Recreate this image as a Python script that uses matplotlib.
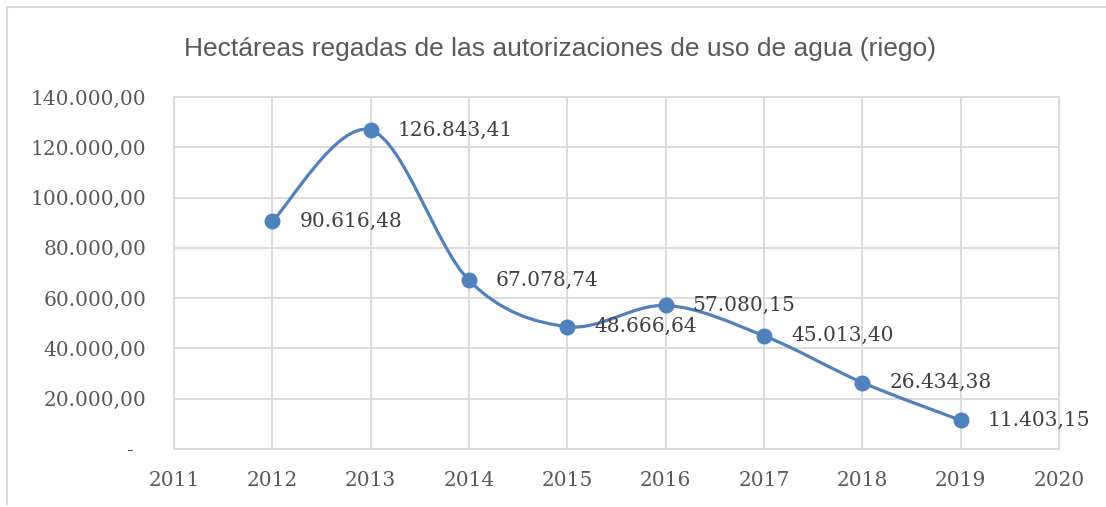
import matplotlib
matplotlib.use('Agg')
import matplotlib.pyplot as plt
from matplotlib.path import Path
from matplotlib.patches import PathPatch
from matplotlib.lines import Line2D
import numpy as np

years = [2012, 2013, 2014, 2015, 2016, 2017, 2018, 2019]
hectares = [90616.48, 126843.41, 67078.74, 48666.64, 57080.15, 45013.40, 26434.38, 11403.15]
labels = ['90.616,48', '126.843,41', '67.078,74', '48.666,64',
          '57.080,15', '45.013,40', '26.434,38', '11.403,15']
yticks = [0, 20000, 40000, 60000, 80000, 100000, 120000, 140000]
ytick_labels = ['-  ', '20.000,00', '40.000,00', '60.000,00', '80.000,00',
                '100.000,00', '120.000,00', '140.000,00']
xticks = list(range(2011, 2021))

title = 'Hectáreas regadas de las autorizaciones de uso de agua (riego)'

BLUE = '#4f81bd'
GRID = '#d9d9d9'
TXT = '#595959'


def smooth_path(xs, ys):
    # Excel-like smoothed line: Catmull-Rom converted to cubic Bezier segments
    pts = np.column_stack([xs, ys]).astype(float)
    n = len(pts)
    verts = [pts[0]]
    codes = [Path.MOVETO]
    for i in range(n - 1):
        p0 = pts[i - 1] if i > 0 else pts[i]
        p1 = pts[i]
        p2 = pts[i + 1]
        p3 = pts[i + 2] if i + 2 < n else pts[i + 1]
        c1 = p1 + (p2 - p0) / 6.0
        c2 = p2 - (p3 - p1) / 6.0
        verts += [c1, c2, p2]
        codes += [Path.CURVE4] * 3
    return Path(verts, codes)


fig = plt.figure(figsize=(11.06, 5.07), dpi=100)
ax = fig.add_axes([0.1573, 0.1144, 0.8002, 0.6943])

ax.add_patch(PathPatch(smooth_path(years, hectares), facecolor='none',
                       edgecolor=BLUE, linewidth=2.3, capstyle='round', zorder=3))
ax.plot(years, hectares, linestyle='none', marker='o', markersize=10.5,
        color=BLUE, zorder=4)

for x, y, s in zip(years, hectares, labels):
    ax.annotate(s, (x, y), xytext=(19.5, 0), textcoords='offset points',
                ha='left', va='center', fontsize=14.5, family='DejaVu Serif',
                color='#404040', zorder=5)

ax.set_xlim(2011, 2020)
ax.set_ylim(0, 140000)
ax.set_xticks(xticks)
ax.set_xticklabels([str(x) for x in xticks])
ax.set_yticks(yticks)
ax.set_yticklabels(ytick_labels)
ax.grid(True, color=GRID, linewidth=1.3, zorder=0)
ax.set_axisbelow(True)
for sp in ax.spines.values():
    sp.set_color(GRID)
    sp.set_linewidth(1.3)
ax.tick_params(length=0, labelsize=14.5, labelcolor=TXT)
ax.tick_params(axis='y', pad=20)
ax.tick_params(axis='x', pad=16)
for lab in ax.get_xticklabels() + ax.get_yticklabels():
    lab.set_family('DejaVu Serif')

fig.text(0.5063, 0.903, title, ha='center', va='center', fontsize=19,
         color=TXT, family=['Liberation Sans', 'DejaVu Sans'])

# chart frame (left and top edges visible)
fig.add_artist(Line2D([7 / 1106, 7 / 1106], [3 / 507, 500 / 507],
                      transform=fig.transFigure, color=GRID, linewidth=1.5))
fig.add_artist(Line2D([7 / 1106, 1.0], [500 / 507, 500 / 507],
                      transform=fig.transFigure, color=GRID, linewidth=1.5))

fig.savefig('out.png', dpi=100)
